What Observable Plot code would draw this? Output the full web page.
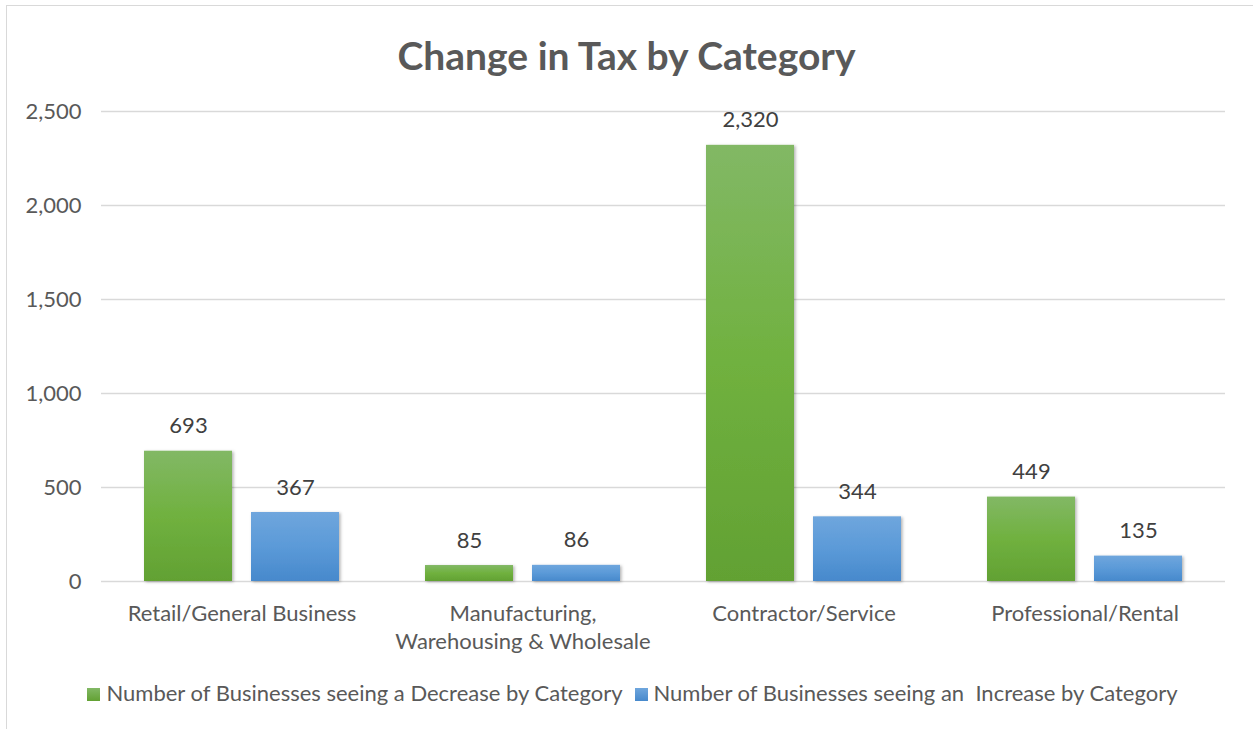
<!DOCTYPE html>
<html>
<head>
<meta charset="utf-8">
<script src="https://cdn.jsdelivr.net/npm/d3@7"></script>
<script src="https://cdn.jsdelivr.net/npm/@observablehq/plot@0.6"></script>
<style>
  html, body { margin: 0; padding: 0; background: #fff; overflow: hidden; }
  #frame { position: absolute; left: 6px; top: 5px; width: 1270px; height: 760px; border: 1.5px solid #d9d9d9; box-sizing: border-box; }
  #wrap { position: absolute; left: 0; top: 0; width: 1253px; height: 729px; font-family: Lato, "Open Sans", sans-serif; }
  #title { position: absolute; left: 0; top: 0; width: 1253px; height: 90px; text-align: center; line-height: 110px; font-weight: bold; font-size: 39px; color: #595959; }
  #chart { position: absolute; left: 0; top: 90px; }
  #legend { position: absolute; left: 0; top: 679px; width: 1253px; text-align: center; font-size: 22px; color: #595959; white-space: pre; padding-left: 12px; box-sizing: border-box; }
  .sw { display: inline-block; width: 13px; height: 13px; margin-right: 6px; vertical-align: 0px; }
  .item { margin: 0 6px; }
</style>
</head>
<body>
<div id="frame"></div>
<div id="wrap">
  <div id="title"></div>
  <div id="chart"></div>
  <div id="legend"></div>
</div>
<script>
const title = "Change in Tax by Category";
const categories = ["Retail/General Business", "Manufacturing,\nWarehousing & Wholesale", "Contractor/Service", "Professional/Rental"];
const seriesKeys = ["dec", "inc"];
const seriesNames = ["Number of Businesses seeing a Decrease by Category", "Number of Businesses seeing an  Increase by Category"];
const decrease = [693, 85, 2320, 449];
const increase = [367, 86, 344, 135];
const yTicks = [0, 500, 1000, 1500, 2000, 2500];
const seriesFills = ["url(#gGreen)", "url(#gBlue)"];
const swatchCss = ["linear-gradient(#82b865,#62a133)", "linear-gradient(#6fa6dd,#4789cc)"];

const data = categories.flatMap((c, i) => [
  {cat: c, s: "dec", v: decrease[i]},
  {cat: c, s: "inc", v: increase[i]}
]);

document.getElementById("title").textContent = title;

const font = "Lato, 'Open Sans', sans-serif";
const fmt = d3.format(",");

const plot = Plot.plot({
  width: 1253,
  height: 580,
  marginTop: 21,
  marginBottom: 89,
  marginLeft: 100,
  marginRight: 28,
  style: {fontFamily: font, background: "transparent", overflow: "visible"},
  fx: {domain: categories, padding: 0, axis: null},
  x: {domain: seriesKeys, paddingInner: 0.18, paddingOuter: 0.4, axis: null},
  y: {domain: [0, 2500]},
  color: {type: "identity"},
  marks: [
    Plot.gridY(yTicks, {stroke: "#d9d9d9", strokeOpacity: 1, strokeWidth: 1.3}),
    Plot.axisY(yTicks, {tickSize: 0, tickPadding: 20, tickFormat: fmt, fontSize: 22, fill: "#595959", label: null}),
    Plot.barY(data, {fx: "cat", x: "s", y: "v", fill: d => seriesFills[seriesKeys.indexOf(d.s)], className: "bar"}),
    Plot.text(data, {fx: "cat", x: "s", y: "v", text: d => fmt(d.v), dy: -25, fontSize: 22, fill: "#404040"}),
    Plot.text(categories, {fx: d => d, text: d => d, frameAnchor: "bottom", dy: 20, lineAnchor: "top", lineHeight: 1.27, fontSize: 22, fill: "#595959"})
  ]
});

const svg = d3.select(plot);
const defs = svg.insert("defs", ":first-child");
const g1 = defs.append("linearGradient").attr("id", "gGreen").attr("x1", 0).attr("x2", 0).attr("y1", 0).attr("y2", 1);
g1.append("stop").attr("offset", "0%").attr("stop-color", "#82b865");
g1.append("stop").attr("offset", "50%").attr("stop-color", "#70b13f");
g1.append("stop").attr("offset", "100%").attr("stop-color", "#62a133");
const g2 = defs.append("linearGradient").attr("id", "gBlue").attr("x1", 0).attr("x2", 0).attr("y1", 0).attr("y2", 1);
g2.append("stop").attr("offset", "0%").attr("stop-color", "#6fa6dd");
g2.append("stop").attr("offset", "50%").attr("stop-color", "#5b9ad8");
g2.append("stop").attr("offset", "100%").attr("stop-color", "#4789cc");
const f = defs.append("filter").attr("id", "shadow").attr("x", "-20%").attr("y", "-20%").attr("width", "140%").attr("height", "140%");
f.append("feDropShadow").attr("dx", 1.5).attr("dy", 1).attr("stdDeviation", 1.5).attr("flood-color", "#000").attr("flood-opacity", 0.3);
svg.selectAll(".bar rect").attr("filter", "url(#shadow)");

document.getElementById("chart").appendChild(plot);

const legend = document.getElementById("legend");
seriesNames.forEach((n, i) => {
  const item = document.createElement("span");
  item.className = "item";
  const sw = document.createElement("span");
  sw.className = "sw";
  sw.style.background = swatchCss[i];
  item.appendChild(sw);
  item.appendChild(document.createTextNode(n));
  legend.appendChild(item);
});
</script>
</body>
</html>
